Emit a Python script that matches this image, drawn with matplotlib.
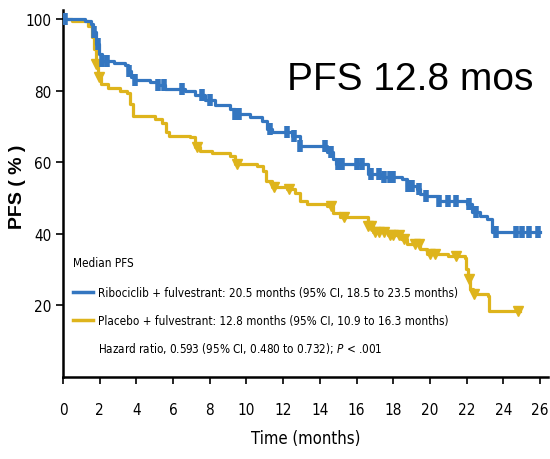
import numpy as np
import matplotlib
matplotlib.use("Agg")
import matplotlib.pyplot as plt

# Ribociclib + fulvestrant (step curve, months / % PFS)
ribo_t = [0, 1.2, 1.5, 1.63, 1.8, 1.96, 2.1, 2.8, 3.4, 3.55, 3.7, 3.9, 4.75, 5.2, 5.55,
          6.65, 7.2, 7.75, 8.3, 9.1, 9.4, 10.2, 10.85, 11.1, 11.4, 12.5, 12.9, 14.4,
          14.7, 14.9, 16.6, 17.4, 18.5, 18.75, 19.3, 19.45, 19.8, 20.5, 22.0, 22.3,
          22.7, 23.1, 23.4, 26.0]
ribo_s = [100, 99.4, 98.6, 96.4, 93, 90.2, 88.3, 87.7, 87.1, 85.5, 83.8, 82.9, 82.4, 81.5,
          80.4, 79.9, 78.7, 77.3, 75.9, 74.8, 73.4, 72.6, 71.5, 69.2, 68.4, 67.3, 64.5,
          62.8, 60.8, 59.4, 56.6, 55.8, 55.2, 53.3, 52.4, 51.0, 50.5, 49.1, 48.2, 46.0,
          44.9, 44.1, 40.4, 40.4]
ribo_cens = [0.1, 1.7, 1.9, 2.1, 2.4, 3.6, 3.9, 5.2, 5.5, 6.5, 7.6, 8.0, 9.4, 9.6, 11.3,
             12.2, 12.6, 12.9, 14.3, 14.6, 15.0, 15.2, 16.0, 16.3, 16.8, 17.2, 17.5, 17.8,
             18.0, 18.8, 19.0, 19.4, 19.8, 20.5, 21.0, 21.4, 22.1, 22.5, 23.6, 24.7, 25.0,
             25.4, 25.9]

# Placebo + fulvestrant
plac_t = [0, 0.5, 1.36, 1.58, 1.7, 1.8, 1.9, 2.07, 2.45, 3.1, 3.5, 3.65, 3.8, 5.0, 5.4,
          5.6, 5.8, 6.9, 7.2, 7.45, 8.1, 9.1, 9.4, 10.6, 10.9, 11.05, 11.4, 12.2, 12.65,
          12.9, 13.3, 14.4, 14.7, 15.1, 16.6, 16.9, 17.7, 18.4, 18.75, 19.45, 19.85,
          21.0, 21.9, 21.95, 22.07, 22.2, 22.35, 23.15, 23.2, 24.9]
plac_s = [100, 99.4, 98, 95, 91.6, 87.4, 83.8, 81.8, 80.7, 79.9, 79.3, 76.2, 72.9, 72.1,
          71.0, 68.4, 67.3, 67.0, 64.3, 63.1, 62.5, 61.6, 59.4, 58.9, 57.5, 54.7, 53.0,
          52.4, 51.3, 49.1, 48.2, 47.7, 45.7, 44.6, 42.1, 40.4, 39.6, 38.5, 37.1, 35.7,
          34.3, 33.7, 33.1, 30.1, 27.3, 24.5, 23.1, 22.5, 18.3, 18.3]
plac_cens = [1.8, 1.95, 7.3, 9.5, 11.5, 12.3, 14.6, 15.3, 16.6, 16.8, 17.0, 17.2, 17.5,
             17.8, 18.0, 18.3, 18.6, 19.2, 19.4, 20.0, 20.3, 21.4, 22.1, 22.4, 24.8]

xticks = list(range(0, 27, 2))
yticks = [20, 40, 60, 80, 100]

blue = "#3476c0"
gold = "#deb41c"

plt.rcParams["font.family"] = ["DejaVu Sans"]
plt.rcParams["font.stretch"] = "condensed"


def surv_at(t, s, x):
    idx = np.searchsorted(t, x, side="right") - 1
    return np.asarray(s)[idx]


fig = plt.figure(figsize=(5.5, 4.6), dpi=100)
ax = fig.add_axes([0.1145, 0.179, 0.8825, 0.797])

ax.step(ribo_t, ribo_s, where="post", color=blue, lw=2.3, zorder=3)
ax.step(plac_t, plac_s, where="post", color=gold, lw=2.3, zorder=2)
ax.plot(ribo_cens, surv_at(ribo_t, ribo_s, ribo_cens), ls="none", marker="|",
        ms=9, mew=4, color=blue, zorder=3)
ax.plot(plac_cens, surv_at(plac_t, plac_s, plac_cens), ls="none", marker="v",
        ms=7, color=gold, zorder=2)

ax.set_xlim(0, 26.45)
ax.set_ylim(0, 102.5)
ax.set_xticks(xticks)
ax.set_yticks(yticks)
ax.spines[["top", "right"]].set_visible(False)
ax.spines[["left", "bottom"]].set_linewidth(1.8)
ax.tick_params(direction="out", length=5, width=1.2, labelsize=11)
ax.tick_params(axis="x", pad=13)
ax.tick_params(axis="y", pad=3)

ax.set_xlabel("Time (months)", fontsize=12, labelpad=9)
ax.set_ylabel("PFS ( % )", family="Liberation Sans", stretch="normal",
              fontweight="bold", fontsize=14)
ax.yaxis.set_label_coords(-0.076, 0.52)

# legend block
fs = 8.4
ax.text(0.55, 32.0, "Median PFS", fontsize=fs, va="center")
ax.plot([0.55, 1.63], [23.6, 23.6], color=blue, lw=2.5)
ax.plot([0.55, 1.63], [15.8, 15.8], color=gold, lw=2.5)
ax.text(1.9, 23.6, "Ribociclib + fulvestrant: 20.5 months (95% CI, 18.5 to 23.5 months)",
        fontsize=fs, va="center")
ax.text(1.9, 15.8, "Placebo + fulvestrant: 12.8 months (95% CI, 10.9 to 16.3 months)",
        fontsize=fs, va="center")
ax.text(1.9, 8.2, "Hazard ratio, 0.593 (95% CI, 0.480 to 0.732); $\\it{P}$ < .001",
        fontsize=fs, va="center")

fig.text(0.745, 0.826, "PFS 12.8 mos", family="Liberation Sans", stretch="normal",
         fontsize=28, ha="center", va="center")

fig.savefig("out.png", dpi=100)
